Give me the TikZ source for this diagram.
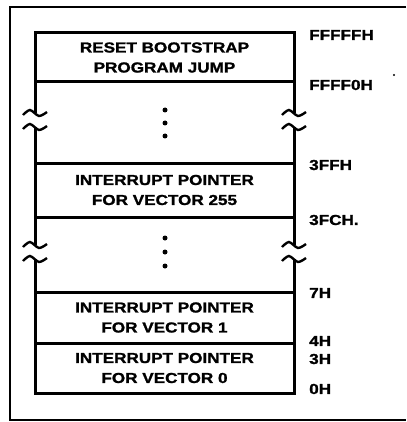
\documentclass[tikz,border=0pt]{standalone}
\usepackage{fontspec}
\newfontfamily\memfont{Liberation Sans}[FakeStretch=1.18,FakeBold=1.4]
\newcommand{\brkmark}[3]{% x, y1, y2
  \draw[brk] plot[smooth] coordinates {(#1-12,#2+2) (#1-5,#2-3) (#1+4,#2+3) (#1+12,#2-1)};
  \draw[brk] plot[smooth] coordinates {(#1-12,#3+2) (#1-5,#3-3) (#1+4,#3+3) (#1+12,#3-1)};
}
\begin{document}
\begin{tikzpicture}[x=1pt,y=-1pt,
  frame/.style={line width=2.2pt},
  wall/.style={line width=3pt},
  brk/.style={line width=2.4pt},
  cell/.style={draw, line width=3pt, minimum width=259pt, inner sep=0pt,
    font=\memfont\bfseries\fontsize{14.5}{20}\selectfont, align=center},
  addr/.style={anchor=west, inner sep=0pt,
    font=\memfont\bfseries\fontsize{14.5}{16}\selectfont},
  dotm/.style={fill, circle, inner sep=0pt, minimum size=5pt}]
\useasboundingbox (0,0) rectangle (406,422);
\draw[frame] (406,7) -- (10,7) -- (10,420) -- (406,420);
% memory cells
\node[cell, minimum height=49pt] (reset) at (164.5,57.5) {RESET BOOTSTRAP\\PROGRAM JUMP};
\node[cell, minimum height=54pt] (v255) at (164.5,190) {INTERRUPT POINTER\\FOR VECTOR 255};
\node[cell, minimum height=51pt] (v1) at (164.5,317.5) {INTERRUPT POINTER\\FOR VECTOR 1};
\node[cell, minimum height=50pt] (v0) at (164.5,368) {INTERRUPT POINTER\\FOR VECTOR 0};
% gap walls with break marks
\draw[wall] (35,82) -- (35,113);
\draw[wall] (35,127) -- (35,163);
\draw[wall] (294,82) -- (294,113);
\draw[wall] (294,127) -- (294,163);
\brkmark{35}{113}{127}
\brkmark{294}{113}{127}
\draw[wall] (35,217) -- (35,245);
\draw[wall] (35,259) -- (35,292);
\draw[wall] (294,217) -- (294,245);
\draw[wall] (294,259) -- (294,292);
\brkmark{35}{245}{259}
\brkmark{294}{245}{259}
% ellipsis dots
\node[dotm] (d1) at (165,110) {};
\node[dotm] (d2) at (165,123) {};
\node[dotm] (d3) at (165,136) {};
\node[dotm] (d4) at (165,238) {};
\node[dotm] (d5) at (165,252) {};
\node[dotm] (d6) at (165,266) {};
% addresses
\node[addr] (a1) at (309,35) {FFFFFH};
\node[addr] (a2) at (309,85) {FFFF0H};
\node[addr] (a3) at (309,165) {3FFH};
\node[addr] (a4) at (309,220) {3FCH.};
\node[addr] (a5) at (309,293) {7H};
\node[addr] (a6) at (309,341) {4H};
\node[addr] (a7) at (309,359) {3H};
\node[addr] (a8) at (309,389) {0H};
\fill (394,75) circle (1.2);
\end{tikzpicture}
\end{document}
